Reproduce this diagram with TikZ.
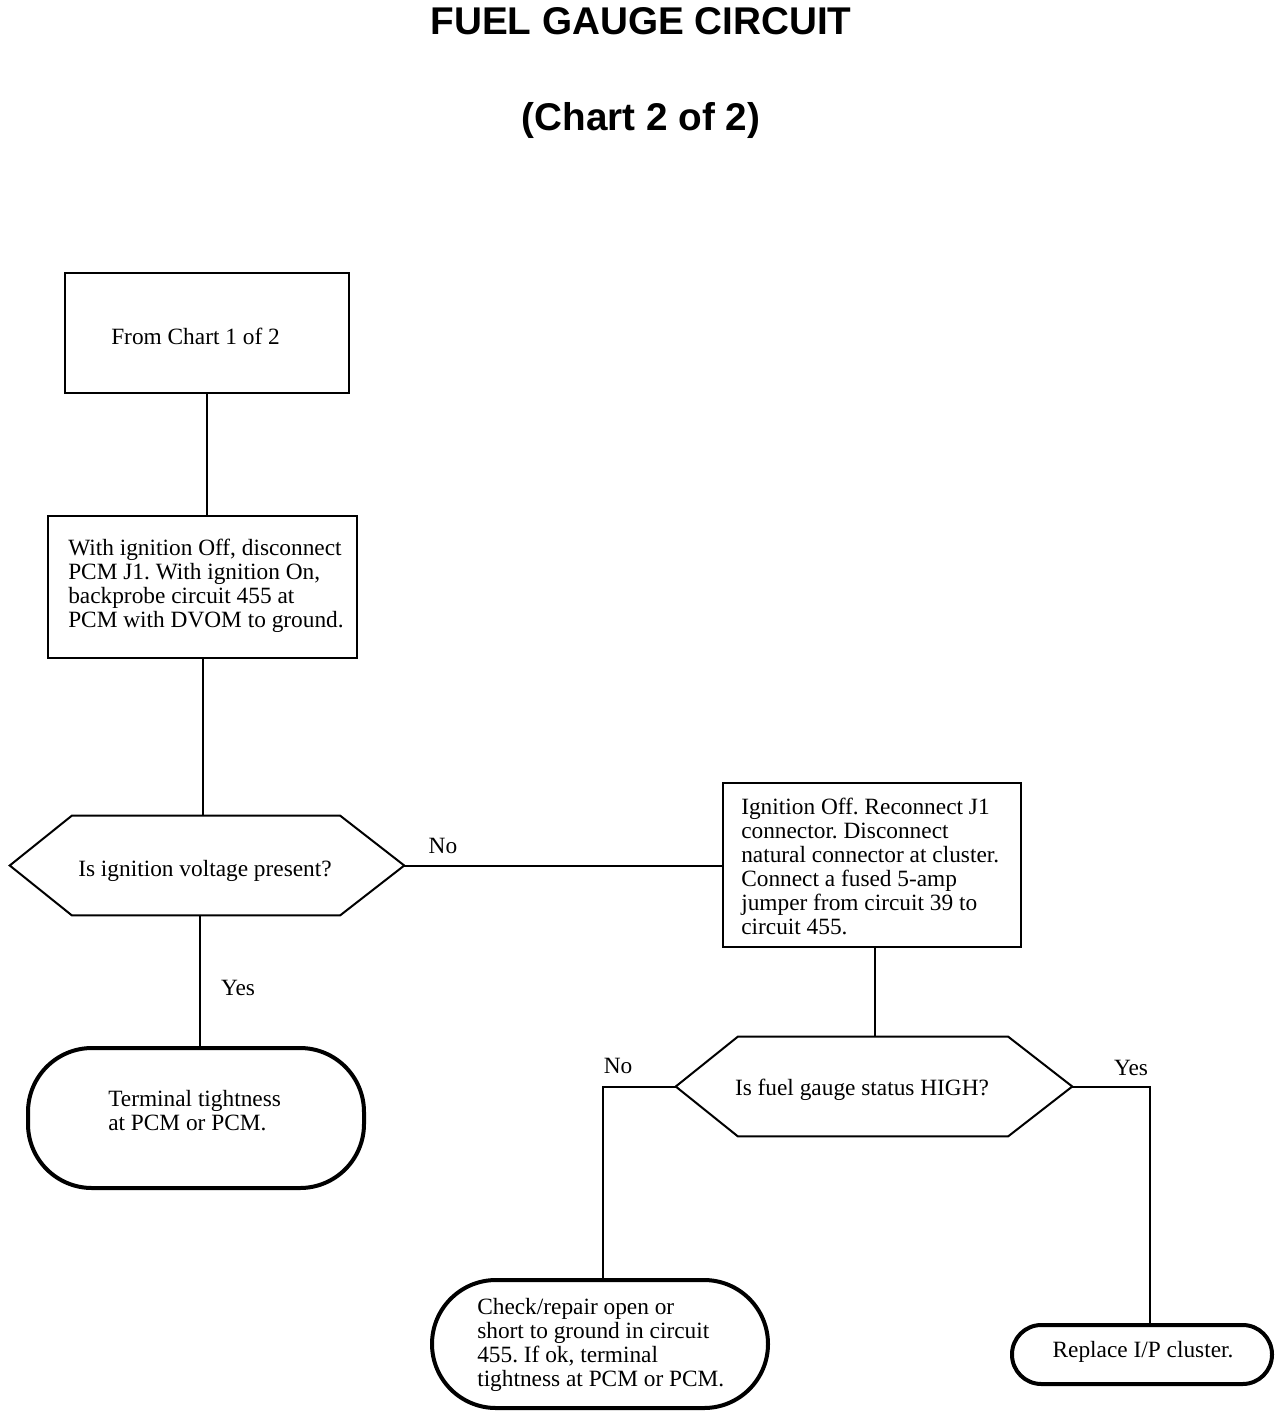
\documentclass[tikz,border=0pt]{standalone}
\usepackage{fontspec}
\setmainfont{Liberation Serif}
\newfontfamily\titlefont{Liberation Sans}
\usetikzlibrary{calc}
\frenchspacing
\begin{document}
\begin{tikzpicture}[x=0.75pt,y=-0.75pt,
  every node/.style={font=\fontsize{17.5}{18}\selectfont},
  box/.style={draw,line width=1.5pt,rectangle,inner sep=0pt},
  term/.style={draw,line width=3pt,rounded corners=48pt,inner sep=0pt},
  hexa/.style={inner sep=0pt},
  txt/.style={align=left,inner sep=0pt},
  hexline/.style={line width=1.5pt,line join=miter},
  conn/.style={line width=1.5pt},
  ttl/.style={font=\titlefont\bfseries\fontsize{29}{30}\selectfont,inner sep=0pt,anchor=base}
]
\useasboundingbox (0,0) rectangle (1280,1416);

% titles
\node[ttl] (title) at (641,35) {FUEL GAUGE CIRCUIT};
\node[ttl] (subtitle) at (641,131) {(Chart 2 of 2)};

% boxes
\node[box,minimum width=213pt,minimum height=90pt] (b1) at (207,333) {};
\node[txt,anchor=west] (b1t) at (111,336) {From Chart 1 of 2};

\node[box,minimum width=231.75pt,minimum height=106.5pt] (b2) at (202.5,587) {};
\node[txt,anchor=west] (b2t) at (68,586) {With ignition Off, disconnect\\PCM J1. With ignition On,\\backprobe circuit 455 at\\PCM with DVOM to ground.};

\node[box,minimum width=223.5pt,minimum height=123pt] (b3) at (872,865) {};
\node[txt,anchor=west] (b3t) at (741,866) {Ignition Off. Reconnect J1\\connector. Disconnect\\natural connector at cluster.\\Connect a fused 5-amp\\jumper from circuit 39 to\\circuit 455.};

% hexagon 1
\node[hexa,minimum width=295.5pt,minimum height=74.25pt] (h1) at (207,865.5) {};
\draw[hexline] (h1.west) -- ($(h1.north west)+(62,0)$) -- ($(h1.north east)+(-64,0)$) -- (h1.east) -- ($(h1.south east)+(-64,0)$) -- ($(h1.south west)+(62,0)$) -- cycle;
\node[txt] (h1t) at (205,871) {Is ignition voltage present?};

% hexagon 2
\node[hexa,minimum width=297pt,minimum height=74.25pt] (h2) at (874,1086.5) {};
\draw[hexline] (h2.west) -- ($(h2.north west)+(62,0)$) -- ($(h2.north east)+(-64,0)$) -- (h2.east) -- ($(h2.south east)+(-64,0)$) -- ($(h2.south west)+(62,0)$) -- cycle;
\node[txt] (h2t) at (862,1090) {Is fuel gauge status HIGH?};

% terminals
\node[term,minimum width=252pt,minimum height=105pt] (t1) at (196,1118) {};
\node[txt,anchor=west] (t1t) at (108,1111) {Terminal tightness\\at PCM or PCM.};

\node[term,minimum width=252pt,minimum height=96pt] (t2) at (600,1344) {};
\node[txt,anchor=west] (t2t) at (477,1345) {Check/repair open or\\short to ground in circuit\\455. If ok, terminal\\tightness at PCM or PCM.};

\node[term,rounded corners=22pt,minimum width=195pt,minimum height=44.25pt] (t3) at (1142,1354.5) {};
\node[txt] (t3t) at (1143,1352) {Replace I/P cluster.};

% connectors
\draw[conn] (b1.south) -- (b1.south |- b2.north);
\draw[conn] (b2.south) -- (b2.south |- h1.north);
\draw[conn] (h1.east) -- (h1.east -| b3.west);
\draw[conn] ([xshift=-5pt]h1.south) -- ([xshift=-5pt]h1.south |- t1.north);
\draw[conn] ([xshift=2pt]b3.south) -- ([xshift=2pt]b3.south |- h2.north);
\draw[conn] (h2.west) -| ([xshift=2pt]t2.north);
\draw[conn] (h2.east) -| ([xshift=6pt]t3.north);

% labels
\node (lno1) at (443,846) {No};
\node (lyes1) at (238,988) {Yes};
\node (lno2) at (618,1066) {No};
\node (lyes2) at (1131,1068) {Yes};
\end{tikzpicture}
\end{document}
